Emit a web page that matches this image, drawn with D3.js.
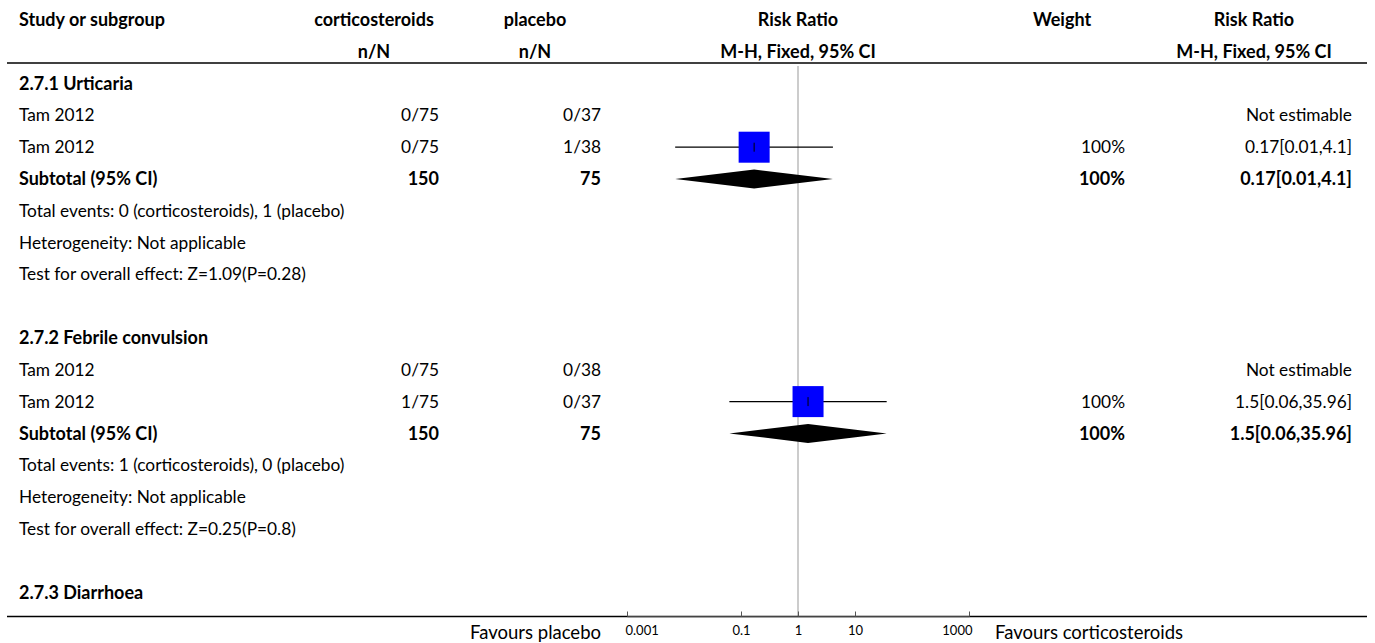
<!DOCTYPE html>
<html>
<head>
<meta charset="utf-8">
<script src="https://cdn.jsdelivr.net/npm/d3@7"></script>
<style>
  body { margin: 0; background: #fff; }
  svg text { font-family: Lato, "Noto Sans", sans-serif; fill: #000; }
  .bold { font-weight: bold; font-size: 18px; }
</style>
</head>
<body>
<div id="chart"></div>
<script>
// forest plot - corticosteroids vs placebo, outcome 2.7

// row texts, first column
var rowText = [
    "2.7.1 Urticaria", "Tam 2012", "Tam 2012", "Subtotal (95% CI)",
    "Total events: 0 (corticosteroids), 1 (placebo)",
    "Heterogeneity: Not applicable",
    "Test for overall effect: Z=1.09(P=0.28)", "",
    "2.7.2 Febrile convulsion", "Tam 2012", "Tam 2012", "Subtotal (95% CI)",
    "Total events: 1 (corticosteroids), 0 (placebo)",
    "Heterogeneity: Not applicable",
    "Test for overall effect: Z=0.25(P=0.8)", "",
    "2.7.3 Diarrhoea"
];
var rowType = [
    "group", "study", "study", "subtotal", "note", "note", "note", "blank",
    "group", "study", "study", "subtotal", "note", "note", "note", "blank",
    "group"
];
var treatN = ["", "0/75", "0/75", "150", "", "", "", "", "", "0/75", "1/75", "150", "", "", "", "", ""];
var ctrlN = ["", "0/37", "1/38", "75", "", "", "", "", "", "0/38", "0/37", "75", "", "", "", "", ""];
var weightText = ["", "", "100%", "100%", "", "", "", "", "", "", "100%", "100%", "", "", "", "", ""];
var weightVal = [0, 0, 100, 100, 0, 0, 0, 0, 0, 0, 100, 100, 0, 0, 0, 0, 0];
var rrText = ["", "Not estimable", "0.17[0.01,4.1]", "0.17[0.01,4.1]", "", "", "", "", "",
    "Not estimable", "1.5[0.06,35.96]", "1.5[0.06,35.96]", "", "", "", "", ""];
var rrEst = [null, null, 0.17, 0.17, null, null, null, null, null, null, 1.5, 1.5, null, null, null, null, null];
var rrLow = [null, null, 0.007, 0.007, null, null, null, null, null, null, 0.0625, 0.0625, null, null, null, null, null];
var rrHigh = [null, null, 4.1, 4.1, null, null, null, null, null, null, 35.96, 35.96, null, null, null, null, null];

// axis ticks
var tickValues = [0.001, 0.1, 1, 10, 1000];
var tickLabels = ["0.001", "0.1", "1", "10", "1000"];

var svgWidth = 1375;
var svgHeight = 643;
var fontSize = 17.3;

var svg = d3.select("#chart")
    .append("svg")
    .attr("width", svgWidth)
    .attr("height", svgHeight);

// row position: 2 header rows, then data rows
var yRow = d3.scaleLinear()
    .domain([0, 18])
    .range([20, 592.4]);

var xRR = d3.scaleLog()
    .domain([0.001, 1000])
    .range([627, 969]);

var sizeScale = d3.scaleSqrt()
    .domain([0, 100])
    .range([0, 31]);

// columns: x position for header (centred) and data (right aligned)
var cols = {
    study: { head: 19, data: 19 },
    treat: { head: 374, data: 439 },
    ctrl: { head: 535, data: 601 },
    plot: { head: 798 },
    weight: { head: 1062, data: 1125 },
    rr: { head: 1254, data: 1352 }
};

// header
var header = svg.append("g").classed("bold", true);

function headText(x, k, txt, anchor) {
    header.append("text")
        .attr("x", x)
        .attr("y", yRow(k))
        .attr("dy", "0.35em")
        .attr("text-anchor", anchor)
        .text(txt);
}
headText(cols.study.head, 0, "Study or subgroup", "start");
headText(cols.treat.head, 0, "corticosteroids", "middle");
headText(cols.treat.head, 1, "n/N", "middle");
headText(cols.ctrl.head, 0, "placebo", "middle");
headText(cols.ctrl.head, 1, "n/N", "middle");
headText(cols.plot.head, 0, "Risk Ratio", "middle");
headText(cols.plot.head, 1, "M-H, Fixed, 95% CI", "middle");
headText(cols.weight.head, 0, "Weight", "middle");
headText(cols.rr.head, 0, "Risk Ratio", "middle");
headText(cols.rr.head, 1, "M-H, Fixed, 95% CI", "middle");

// top rule
svg.append("line")
    .attr("x1", 7).attr("x2", 1367)
    .attr("y1", 63).attr("y2", 63)
    .attr("stroke", "#000").attr("stroke-width", 1.3);

// line of no effect
svg.append("line")
    .attr("x1", xRR(1)).attr("x2", xRR(1))
    .attr("y1", 66).attr("y2", 616)
    .attr("stroke", "#999").attr("stroke-width", 1);

// bottom rule
svg.append("line")
    .attr("x1", 7).attr("x2", 1367)
    .attr("y1", 616.5).attr("y2", 616.5)
    .attr("stroke", "#000").attr("stroke-width", 1.3);

// data rows
var rows = svg.append("g").attr("font-size", fontSize);

rowText.forEach(function (txt, i) {
    var y = yRow(i + 2);
    var bold = rowType[i] === "group" || rowType[i] === "subtotal";
    var g = rows.append("g").classed("bold", bold);

    g.append("text").attr("x", cols.study.data).attr("y", y).attr("dy", "0.35em")
        .text(txt);
    g.append("text").attr("x", cols.treat.data).attr("y", y).attr("dy", "0.35em")
        .attr("text-anchor", "end").text(treatN[i]);
    g.append("text").attr("x", cols.ctrl.data).attr("y", y).attr("dy", "0.35em")
        .attr("text-anchor", "end").text(ctrlN[i]);
    g.append("text").attr("x", cols.weight.data).attr("y", y).attr("dy", "0.35em")
        .attr("text-anchor", "end").text(weightText[i]);
    g.append("text").attr("x", cols.rr.data).attr("y", y).attr("dy", "0.35em")
        .attr("text-anchor", "end").text(rrText[i]);

    if (rrEst[i] === null) return;

    if (rowType[i] === "study") {
        // confidence interval
        rows.append("line")
            .attr("x1", xRR(rrLow[i])).attr("x2", xRR(rrHigh[i]))
            .attr("y1", y).attr("y2", y)
            .attr("stroke", "#000").attr("stroke-width", 1.2);
        var s = sizeScale(weightVal[i]);
        rows.append("rect")
            .attr("x", xRR(rrEst[i]) - s / 2)
            .attr("y", y - s / 2)
            .attr("width", s)
            .attr("height", s)
            .attr("fill", "#0000ff");
        rows.append("line")
            .attr("x1", xRR(rrEst[i])).attr("x2", xRR(rrEst[i]))
            .attr("y1", y - 4.5).attr("y2", y + 4.5)
            .attr("stroke", "#000").attr("stroke-width", 1);
    } else if (rowType[i] === "subtotal") {
        var pts = [
            [xRR(rrLow[i]), y],
            [xRR(rrEst[i]), y - 9.5],
            [xRR(rrHigh[i]), y],
            [xRR(rrEst[i]), y + 9.5]
        ];
        rows.append("path")
            .attr("d", d3.line()(pts) + "Z")
            .attr("fill", "#000");
    }
});

// bottom axis, ticks pointing up
var axis = d3.axisBottom(xRR)
    .tickValues(tickValues)
    .tickFormat(function (d, i) { return tickLabels[i]; })
    .tickSize(-5)
    .tickSizeOuter(0);

var axisG = svg.append("g")
    .attr("transform", "translate(0, 616.5)")
    .call(axis);

axisG.select(".domain").attr("stroke", "#888");
axisG.selectAll(".tick line").attr("stroke", "#555");
axisG.selectAll(".tick text")
    .attr("font-family", "Lato, sans-serif")
    .attr("font-size", 13)
    .attr("y", 9)
    .attr("text-anchor", function (d, i) {
        if (i === 0) return "start";
        if (i === tickValues.length - 1) return "end";
        return "middle";
    })
    .attr("dx", function (d, i) {
        if (i === 0) return -2;
        if (i === tickValues.length - 1) return 3;
        return 0;
    });

// favours labels
svg.append("text")
    .attr("x", 601).attr("y", 633).attr("dy", "0.35em")
    .attr("text-anchor", "end")
    .attr("font-size", 18.5)
    .text("Favours placebo");

svg.append("text")
    .attr("x", 995).attr("y", 633).attr("dy", "0.35em")
    .attr("font-size", 18.5)
    .text("Favours corticosteroids");
</script>
</body>
</html>
